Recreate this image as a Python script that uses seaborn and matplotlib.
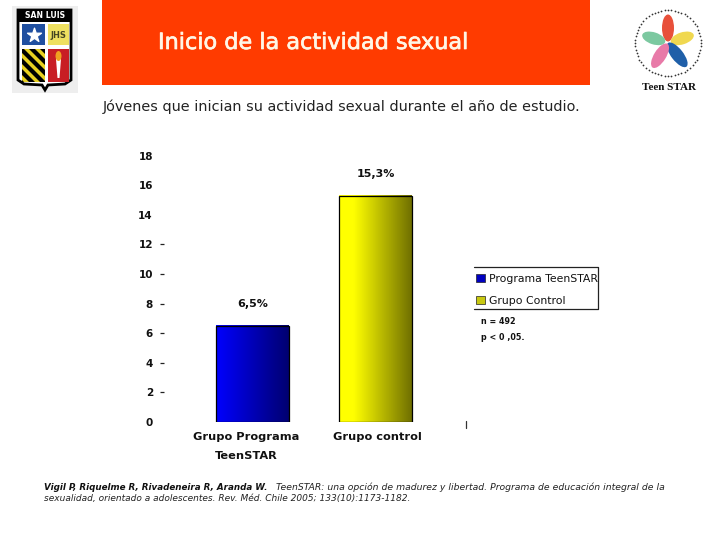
import matplotlib
matplotlib.use('Agg')
import numpy as np
import pandas as pd
import matplotlib.pyplot as plt
import matplotlib.patheffects as pe
import seaborn as sns
from matplotlib.colors import LinearSegmentedColormap
from matplotlib.patches import Patch, Rectangle, Ellipse, Polygon
from matplotlib.transforms import ScaledTranslation

# ---- data ----
categories = ['Grupo Programa\nTeenSTAR', 'Grupo control']
values = [6.5, 15.3]
y_ticks = [0, 2, 4, 6, 8, 10, 12, 14, 16, 18]
ticks_with_dash = [2, 4, 6, 8, 10, 12]
legend_labels = ['Programa TeenSTAR', 'Grupo Control']

sns.set_theme(style='white')
plt.rcParams['font.family'] = ['DejaVu Sans']

W, H = 720, 540
fig = plt.figure(figsize=(7.2, 5.4), dpi=100, facecolor='white')

# page layer in pixel coords: banner, logos, captions
page = fig.add_axes([0, 0, 1, 1], zorder=0)
page.set_xlim(0, W)
page.set_ylim(H, 0)
page.axis('off')

page.add_patch(Rectangle((102, 0), 488, 85, color='#ff3b00', lw=0))
title = page.text(158, 43, 'Inicio de la actividad sexual', color='#fff6e6', fontsize=16.1,
                  va='center', ha='left')
title.set_path_effects([pe.withStroke(linewidth=0.5, foreground='#fff6e6')])
page.text(103, 107, 'Jóvenes que inician su actividad sexual durante el año de estudio.',
          color='#222222', fontsize=10.35, va='center', ha='left')

# school shield
page.add_patch(Rectangle((12, 6), 66, 87, color='#eeeeee', lw=0))
page.add_patch(Polygon([(18, 10), (71, 10), (71, 80), (65, 84), (48, 85), (45, 90), (42, 85), (24, 84), (18, 80)],
                       closed=True, fc='white', ec='black', lw=2))
page.add_patch(Rectangle((19, 10), 51, 12, color='black', lw=0))
page.text(45, 16, 'SAN LUIS', color='white', fontsize=5.6, fontweight='bold', ha='center', va='center')
page.add_patch(Rectangle((22, 24), 23, 21, color='#1f4fa0', lw=0))
page.scatter([33.5], [35], marker='*', s=110, color='white', zorder=3)
page.add_patch(Rectangle((48, 24), 21, 21, color='#eee060', lw=0))
page.text(58.5, 35, 'JHS', color='#444422', fontsize=6, fontweight='bold', ha='center', va='center')
stripe_box = Rectangle((22, 49), 23, 33, color='#e8d020', lw=0, zorder=1)
page.add_patch(stripe_box)
for off in range(-24, 34, 11):
    stripe = page.fill([22, 22, 45, 45], [49 + off, 55 + off, 78 + off, 72 + off], color='black', lw=0, zorder=1.5)[0]
    stripe.set_clip_path(stripe_box)
page.add_patch(Rectangle((48, 49), 21, 33, color='#c81e24', lw=0, zorder=1))
page.fill([56, 61, 59.5, 57.5], [59, 59, 78, 78], color='white', lw=0, zorder=2)
page.add_patch(Ellipse((58.5, 56), 6, 10, color='#f0a020', lw=0, zorder=2))

# TeenSTAR flower
cx, cy = 668, 43
petals = [(90, '#e8503a', 27), (18, '#f0d850', 24), (-52, '#1f5fa8', 30), (-122, '#e87aa8', 28), (162, '#7cc8a0', 24)]
for ang, col, ln in petals:
    a = np.deg2rad(ang)
    page.add_patch(Ellipse((cx + 15 * np.cos(a), cy - 15 * np.sin(a)), ln, 12, angle=-ang, color=col, lw=0, zorder=1))
th = np.linspace(0, 2 * np.pi, 60, endpoint=False)
page.scatter(cx + 33 * np.cos(th), cy + 33 * np.sin(th), s=1.6, color='#333333', lw=0)
page.text(669, 88, 'Teen STAR', color='#111111', fontsize=8, fontweight='bold', family='Liberation Serif',
          ha='center', va='center')

# legend frame has no left edge
page.plot([474, 598, 598, 474], [267, 267, 309, 309], color='#222222', lw=0.9)
page.plot([465.5, 465.5], [421, 428], color='#333333', lw=0.9)

page.text(481, 322, 'n = 492', color='#111111', fontsize=5.8, fontweight='bold', va='center')
page.text(481, 337, 'p < 0 ,05.', color='#111111', fontsize=5.8, fontweight='bold', va='center')

page.text(44, 487, 'Vigil P, Riquelme R, Rivadeneira R, Aranda W.', color='#111111', fontsize=6.3,
          fontweight='bold', fontstyle='italic', va='center')
page.text(276, 487, 'TeenSTAR: una opción de madurez y libertad. Programa de educación integral de la',
          color='#222222', fontsize=6.7, fontstyle='italic', va='center')
page.text(44, 498, 'sexualidad, orientado a adolescentes. Rev. Méd. Chile 2005; 133(10):1173-1182.',
          color='#222222', fontsize=6.45, fontstyle='italic', va='center')

# chart axes: 0 at y=422, 18 at y=155.6, bars centred on x=252 and x=375.5
left, right = 164, 466
bottom, top = 422, 140
ax = fig.add_axes([left / W, 1 - bottom / H, (right - left) / W, (bottom - top) / H], zorder=1)
ax.patch.set_alpha(0)

df = pd.DataFrame({'Grupo': categories, 'Valor': values})
sns.barplot(data=df, x='Grupo', y='Valor', ax=ax, width=0.59, color='white', saturation=1,
            edgecolor='black', linewidth=0.9)

x_scale = 123.4
ax.set_xlim((left - 252.2) / x_scale, (right - 252.2) / x_scale)
ax.set_ylim(0, (bottom - top) / 14.8)
ax.set_xlabel('')
ax.set_ylabel('')
sns.despine(ax=ax, left=True, bottom=True)

# horizontal gradient inside each bar
cmaps = [LinearSegmentedColormap.from_list('b', ['#0000ff', '#000070']),
         LinearSegmentedColormap.from_list('y', [(0, '#ffff00'), (0.2, '#ffff00'), (1, '#707000')])]
grad = np.linspace(0, 1, 128).reshape(1, -1)
xlim, ylim = ax.get_xlim(), ax.get_ylim()
for bar, cm in zip(ax.patches, cmaps):
    bb = bar.get_bbox()
    ax.imshow(grad, cmap=cm, aspect='auto', extent=[bb.x0, bb.x1, bb.y0, bb.y1], zorder=bar.get_zorder() + 0.1)
    bar.set_zorder(bar.get_zorder() + 0.2)
    bar.set_facecolor('none')
ax.set_xlim(xlim)
ax.set_ylim(ylim)

ax.bar_label(ax.containers[0], labels=[f'{v:.1f}'.replace('.', ',') + '%' for v in values],
             padding=12, fontsize=8, fontweight='bold', color='#111111')

ax.set_yticks(y_ticks)
ax.tick_params(axis='y', left=True, length=3, width=0.9, color='#222222', pad=5,
               labelsize=7.5, labelcolor='#111111')
for lab in ax.get_yticklabels():
    lab.set_fontweight('bold')
for val, tick in zip(y_ticks, ax.yaxis.get_major_ticks()):
    tick.tick1line.set_visible(val in ticks_with_dash)

ax.tick_params(axis='x', bottom=False, pad=1, labelsize=8.2, labelcolor='#111111')
shifts = [-6, 2]
for lab, dx in zip(ax.get_xticklabels(), shifts):
    lab.set_fontweight('semibold')
    lab.set_linespacing(2.1)
    lab.set_transform(lab.get_transform() + ScaledTranslation(dx / 100, 0, fig.dpi_scale_trans))

handles = [Patch(facecolor='#0000c0', edgecolor='#222222', linewidth=0.5),
           Patch(facecolor='#c8c810', edgecolor='#222222', linewidth=0.5)]
ax.legend(handles, legend_labels, loc='center left', frameon=False, fontsize=7.8,
          bbox_to_anchor=((474 - left) / (right - left), (bottom - 290) / (bottom - top)),
          handlelength=0.8, handleheight=0.8, handletextpad=0.35, labelspacing=1.1, borderpad=0,
          borderaxespad=0.2, labelcolor='#111111')

fig.savefig('out.png', dpi=100)
